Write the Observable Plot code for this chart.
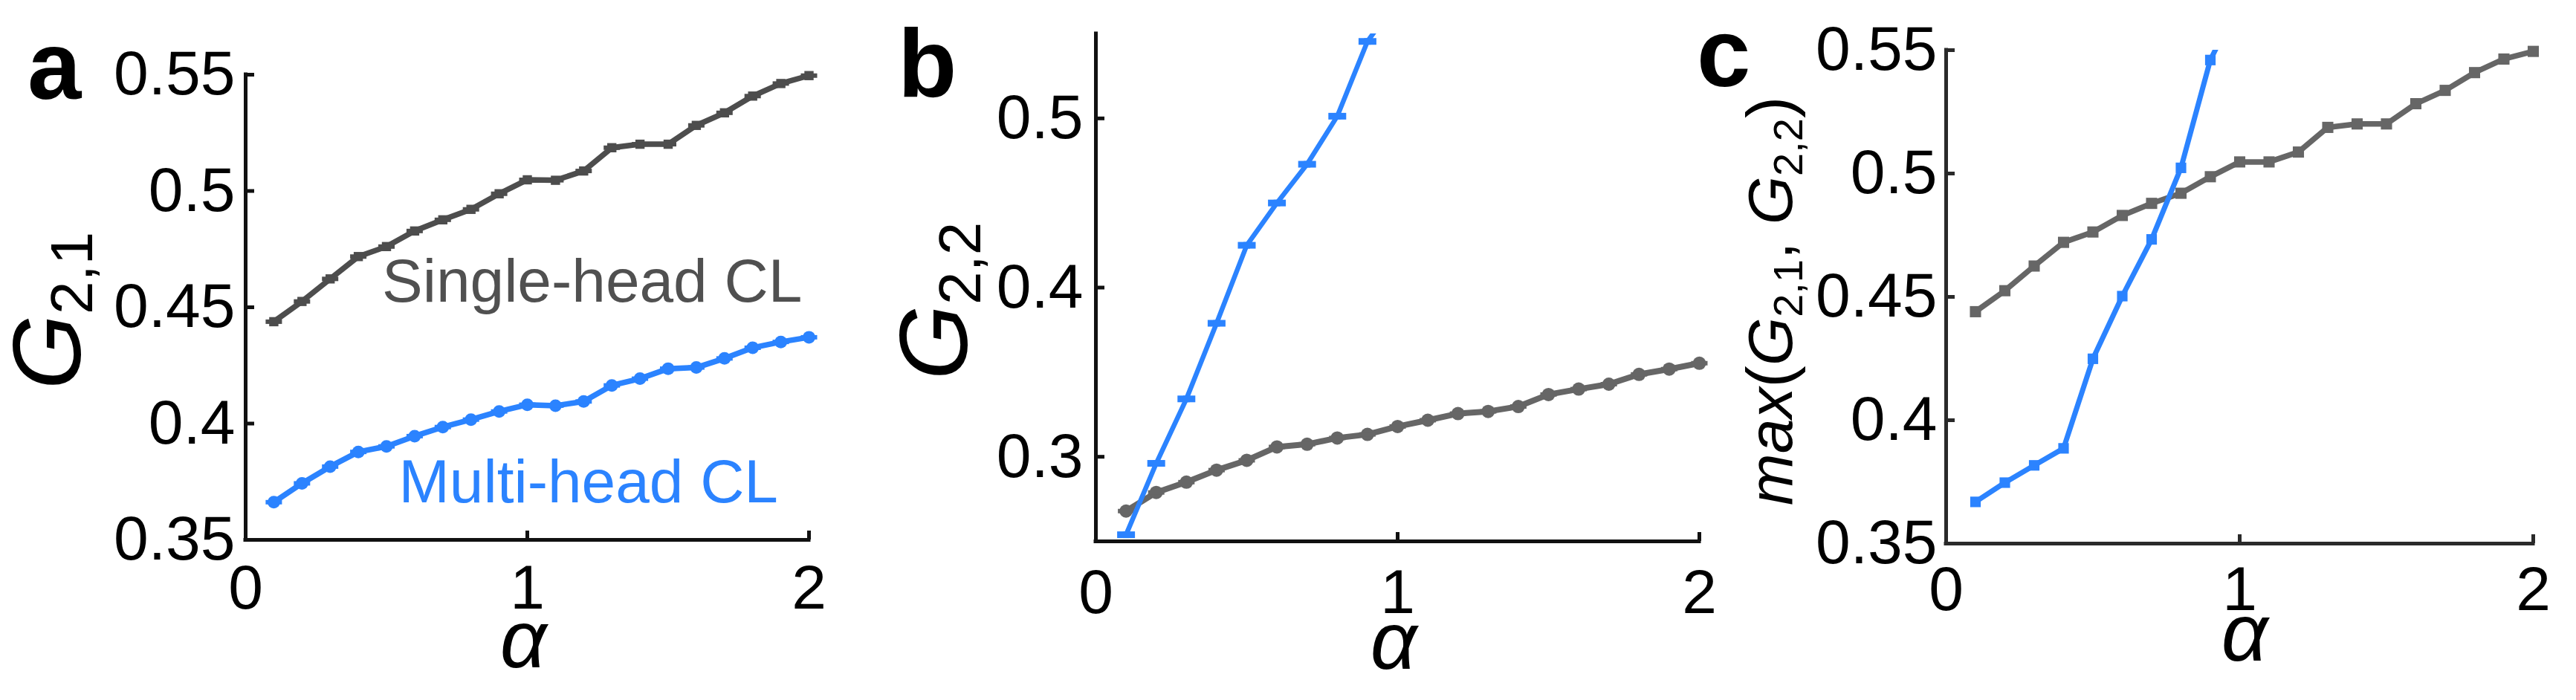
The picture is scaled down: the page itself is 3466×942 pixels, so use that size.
<!DOCTYPE html>
<html><head><meta charset="utf-8">
<script src="https://cdn.jsdelivr.net/npm/d3@7"></script>
<script src="https://cdn.jsdelivr.net/npm/@observablehq/plot@0.6"></script>
<style>
body{margin:0;background:#fff;}
#root{position:relative;width:3466px;height:942px;overflow:hidden;background:#fff;}
.panel{position:absolute;top:0;}
.panel svg{overflow:visible;}
#overlay{position:absolute;left:0;top:0;pointer-events:none;}
</style></head><body><div id="root"></div>
<script>
// ---- data ----
const alpha = [0.1,0.2,0.3,0.4,0.5,0.6,0.7,0.8,0.9,1.0,1.1,1.2,1.3,1.4,1.5,1.6,1.7,1.8,1.9,2.0];
const singleG21 = [0.4438,0.4525,0.4622,0.4718,0.4761,0.4828,0.4876,0.4921,0.4988,0.5048,0.5046,0.5086,0.5186,0.5201,0.5201,0.5282,0.5336,0.5408,0.5462,0.5496];
const multiG21  = [0.3662,0.3743,0.3815,0.3878,0.3902,0.3946,0.3985,0.4017,0.4052,0.4081,0.4077,0.4095,0.4164,0.4193,0.4236,0.4241,0.4280,0.4326,0.4351,0.4371];
const singleG22 = [0.2679,0.2789,0.2850,0.2921,0.2979,0.3058,0.3074,0.3111,0.3132,0.3179,0.3216,0.3255,0.3268,0.3297,0.3368,0.3400,0.3429,0.3487,0.3518,0.3553];
const alphaMultiG22 = [0.1,0.2,0.3,0.4,0.5,0.6,0.7,0.8,0.9,1.0];
const multiG22  = [0.2539,0.2961,0.3342,0.3789,0.4250,0.4500,0.4729,0.5013,0.5455,0.5700];
const singleMax = [0.4440,0.4525,0.4625,0.4721,0.4763,0.4830,0.4879,0.4920,0.4987,0.5047,0.5047,0.5087,0.5187,0.5201,0.5201,0.5283,0.5337,0.5409,0.5464,0.5495];
const multiMax  = [0.3669,0.3747,0.3817,0.3886,0.4249,0.4503,0.4733,0.5023,0.5460,0.5700];
const xTicks = [0,1,2];
const yTicksAC = [0.35,0.4,0.45,0.5,0.55];
const yTicksB = [0.3,0.4,0.5];
const seriesNames = ["Single-head CL","Multi-head CL"];
const panelLetters = ["a","b","c"];

const FONT = '"Liberation Sans", Arial, Helvetica, sans-serif';
const GRAY_A = "#4d4d4d", GRAY = "#666666", BLUE = "#2b83ff";

const dash = {draw(ctx, size){ const r = Math.sqrt(size/Math.PI); ctx.moveTo(-r,0); ctx.lineTo(r,0); }};

const rows = (xs, ys) => xs.map((a,i)=>({a, g: ys[i]}));
const A_single = rows(alpha, singleG21), A_multi = rows(alpha, multiG21);
const B_single = rows(alpha, singleG22), B_multi = rows(alphaMultiG22, multiG22);
const C_single = rows(alpha, singleMax), C_multi = rows(alphaMultiG22, multiMax);

const annotations = [
  {text: seriesNames[0], a: 1.23, g: 0.4607, color: "#505050"},
  {text: seriesNames[1], a: 1.217, g: 0.3745, color: BLUE}
];

const root = document.getElementById("root");

function makePanel(cfg){
  const H = 942;
  const fw = cfg.width - cfg.ml - cfg.mr;
  const fh = H - cfg.mt - cfg.mb;
  const plot = Plot.plot({
    width: cfg.width, height: H,
    marginLeft: cfg.ml, marginRight: cfg.mr, marginTop: cfg.mt, marginBottom: cfg.mb,
    style: {fontFamily: FONT, background: "transparent", color: "#000", overflow: "visible"},
    x: {domain: [0,2]},
    y: {domain: cfg.yDomain},
    marks: [
      ...cfg.marks,
      Plot.axisX(xTicks, {tickSize: 0, tickPadding: cfg.xPad, fontSize: 84, tickFormat: d => String(d), label: null}),
      Plot.axisY(cfg.yTicks, {tickSize: 0, tickPadding: cfg.yPad, fontSize: 84, tickFormat: d => String(d), label: null}),
      Plot.tickY(cfg.yTicks, {y: d => d, insetRight: fw - 12, stroke: cfg.axisColor, strokeWidth: 5}),
      Plot.tickX(xTicks, {x: d => d, insetTop: fh - 12, stroke: cfg.axisColor, strokeWidth: 5}),
      Plot.ruleX([0], {stroke: cfg.axisColor, strokeWidth: 5, strokeLinecap: "square"}),
      Plot.ruleY([cfg.yDomain[0]], {stroke: cfg.axisColor, strokeWidth: 5, strokeLinecap: "square"})
    ]
  });
  const div = document.createElement("div");
  div.className = "panel";
  div.style.left = cfg.left + "px";
  div.appendChild(plot);
  root.appendChild(div);
}

// panel a
makePanel({
  left: 0, width: 1160, ml: 330, mr: 72, mt: 100, mb: 216,
  yDomain: [0.35,0.55], yTicks: yTicksAC, xPad: 33, yPad: 14, axisColor: "#111",
  marks: [
    Plot.line(A_single, {x:"a", y:"g", stroke: GRAY_A, strokeWidth: 7.5}),
    Plot.dot(A_single, {x:"a", y:"g", symbol:"square", r: 7, fill: GRAY_A}),
    Plot.dot(A_single, {x:"a", y:"g", symbol: dash, r: 11, stroke: GRAY_A, fill: "none", strokeWidth: 6}),
    Plot.line(A_multi, {x:"a", y:"g", stroke: BLUE, strokeWidth: 7.5}),
    Plot.dot(A_multi, {x:"a", y:"g", symbol:"circle", r: 8.5, fill: BLUE}),
    Plot.dot(A_multi, {x:"a", y:"g", symbol: dash, r: 11, stroke: BLUE, fill: "none", strokeWidth: 6}),
    Plot.text(annotations, {x:"a", y:"g", text:"text", fill:"color", fontSize: 82, fontFamily: FONT})
  ]
});

// panel b
makePanel({
  left: 1160, width: 1150, ml: 314, mr: 24, mt: 45, mb: 214,
  yDomain: [0.25,0.55], yTicks: yTicksB, xPad: 37, yPad: 17, axisColor: "#111",
  marks: [
    Plot.line(B_single, {x:"a", y:"g", stroke: GRAY, strokeWidth: 8}),
    Plot.dot(B_single, {x:"a", y:"g", symbol:"circle", r: 9, fill: GRAY}),
    Plot.dot(B_single, {x:"a", y:"g", symbol: dash, r: 11, stroke: GRAY, fill: "none", strokeWidth: 6}),
    Plot.line(B_multi, {x:"a", y:"g", stroke: BLUE, strokeWidth: 6.5, clip: true}),
    Plot.dot(B_multi, {x:"a", y:"g", symbol:"square", r: 5, fill: BLUE, clip: true}),
    Plot.dot(B_multi, {x:"a", y:"g", symbol: dash, r: 12, stroke: BLUE, fill: "none", strokeWidth: 9, clip: true})
  ]
});

// panel c
makePanel({
  left: 2310, width: 1156, ml: 308, mr: 58, mt: 67, mb: 211,
  yDomain: [0.35,0.55], yTicks: yTicksAC, xPad: 30, yPad: 12, axisColor: "#2a2a2a",
  marks: [
    Plot.line(C_single, {x:"a", y:"g", stroke: GRAY, strokeWidth: 7.5}),
    Plot.dot(C_single, {x:"a", y:"g", symbol:"square", r: 8.5, fill: GRAY}),
    Plot.line(C_multi, {x:"a", y:"g", stroke: BLUE, strokeWidth: 7, clip: true}),
    Plot.dot(C_multi, {x:"a", y:"g", symbol:"square", r: 8, fill: BLUE, clip: true})
  ]
});

// overlay: panel letters, y labels, x labels
const ov = d3.select(root).append("svg").attr("id","overlay")
  .attr("width",3466).attr("height",942).attr("font-family", FONT);

const letterPos = [[37,133],[1208,130],[2283,116]];
panelLetters.forEach((l,i)=>{
  ov.append("text").attr("x",letterPos[i][0]).attr("y",letterPos[i][1])
    .attr("font-size",130).attr("font-weight","bold").attr("fill","#000").text(l);
});

function yLabel(x, yc, parts){
  const t = ov.append("text").attr("transform",`translate(${x},${yc}) rotate(-90)`)
    .attr("text-anchor","middle").attr("fill","#000");
  parts.forEach(p=>{
    const s = t.append("tspan").text(p.t).attr("font-size",p.s)
      .attr("font-style", p.i ? "italic" : "normal");
    if (p.dy) s.attr("dy", p.dy);
  });
}
yLabel(108, 418, [{t:"G", s:130, i:true},{t:"2,1", s:80, dy:16}]);
yLabel(1301, 405, [{t:"G", s:130, i:true},{t:"2,2", s:80, dy:18}]);
yLabel(2411, 405, [
  {t:"max", s:84, i:true},{t:"(", s:88},{t:"G", s:84, i:true},{t:"2,1", s:56, dy:14},
  {t:", ", s:84, dy:-14},{t:"G", s:84, i:true},{t:"2,2", s:56, dy:14},{t:")", s:88, dy:-14}
]);

const alphaPos = [[704,898],[1875,900],[3020,889]];
alphaPos.forEach(([x,y])=>{
  ov.append("text").attr("x",x).attr("y",y).attr("text-anchor","middle")
    .attr("font-size",110).attr("font-style","italic").attr("fill","#000").text("α");
});
</script></body></html>
